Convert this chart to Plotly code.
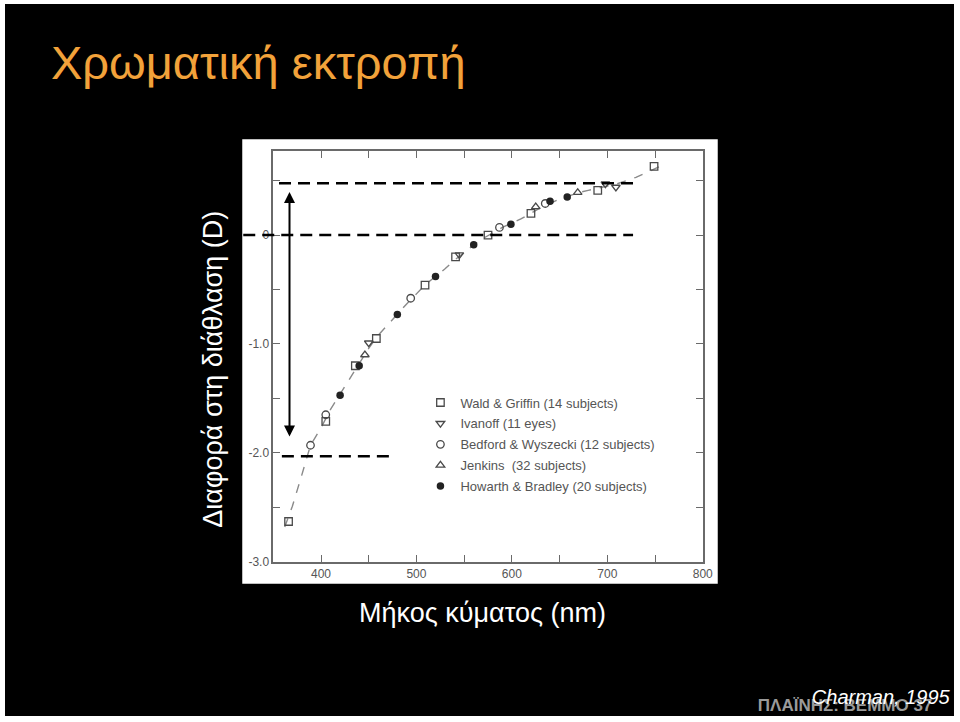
import plotly.graph_objects as go

# ---------------- data ----------------
wg_x = [366, 405, 436, 458, 509, 541, 575, 620, 690, 749]
wg_y = [-2.63, -1.71, -1.20, -0.95, -0.46, -0.20, 0.00, 0.20, 0.41, 0.63]

iv_x = [450, 545, 698, 709]
iv_y = [-0.99, -0.18, 0.47, 0.44]

bw_x = [389, 405, 494, 587, 635]
bw_y = [-1.93, -1.65, -0.58, 0.07, 0.29]

jk_x = [446, 625, 669]
jk_y = [-1.10, 0.26, 0.39]

hb_x = [420, 440, 480, 520, 560, 599, 640, 658]
hb_y = [-1.47, -1.20, -0.73, -0.38, -0.09, 0.10, 0.31, 0.35]

curve_x = [362, 370, 380, 389, 400, 410, 420, 430, 440, 450, 460, 470, 480, 490, 500,
           510, 520, 530, 540, 550, 560, 570, 580, 590, 600, 610, 620, 630, 640, 650,
           660, 670, 680, 690, 700, 710, 720, 730, 740, 750, 760]
curve_y = [-2.68, -2.49, -2.20, -1.93, -1.77, -1.60, -1.46, -1.32, -1.19, -1.04, -0.92,
           -0.82, -0.73, -0.63, -0.54, -0.45, -0.38, -0.31, -0.23, -0.16, -0.09, -0.03,
           0.02, 0.07, 0.11, 0.15, 0.20, 0.25, 0.29, 0.33, 0.36, 0.39, 0.41, 0.43, 0.45,
           0.47, 0.50, 0.53, 0.57, 0.61, 0.65]

legend_names = ["Wald & Griffin (14 subjects)", "Ivanoff (11 eyes)",
                "Bedford & Wyszecki (12 subjects)", "Jenkins  (32 subjects)",
                "Howarth & Bradley (20 subjects)"]

x_tickvals = [400, 500, 600, 700, 800]
x_ticktext = ["400", "500", "600", "700", "800"]
y_tickvals = [0, -1, -2, -3]
y_ticktext = ["0", "-1.0", "-2.0", "-3.0"]

# reference lines drawn over the chart (data units)
top_level = 0.475
zero_level = 0.0
low_level = -2.03
arrow_x = 367
arrow_top = 0.41
arrow_bottom = -1.85

title_text = "Χρωματική εκτροπή"
ytitle_text = "Διαφορά στη διάθλαση (D)"
xtitle_text = "Μήκος κύματος (nm)"
credit_text = "Charman, 1995"
footer_text = "ΠΛΑΪΝΗΣ: ΒΕΜΜΟ 37"

# ---------------- layout helpers ----------------
W, H = 960, 722           # design coordinates (pixels of the target picture)
K = 1.011                 # renderer shrinks the page slightly; compensate
FW, FH = round(W * K), round(H * K)
XR = [350, 800]
YR = [-3.0, 0.77]
L, R, T, B = 273, 702, 151, 561   # plot box in pixels
dom_x = [L / W, R / W]
dom_y = [1 - B / H, 1 - T / H]


def px(xp):
    return xp / W


def py(yp):
    return 1 - yp / H


def dx(x):
    return dom_x[0] + (x - XR[0]) / (XR[1] - XR[0]) * (dom_x[1] - dom_x[0])


def dy(y):
    return dom_y[0] + (y - YR[0]) / (YR[1] - YR[0]) * (dom_y[1] - dom_y[0])


FONT = "Liberation Sans, Arial, sans-serif"
mk_col = "#4a4a4a"
DASH = "12px,7px"

fig = go.Figure()
fig.add_trace(go.Scatter(x=curve_x, y=curve_y, mode="lines",
                         line=dict(color="#8a8a8a", width=1.4, dash="dash"),
                         showlegend=False, hoverinfo="skip"))
symbols = ["square-open", "triangle-down-open", "circle-open", "triangle-up-open", "circle"]
series = [(wg_x, wg_y), (iv_x, iv_y), (bw_x, bw_y), (jk_x, jk_y), (hb_x, hb_y)]
for i, ((sx, sy), sym, nm) in enumerate(zip(series, symbols, legend_names)):
    filled = sym == "circle"
    fig.add_trace(go.Scatter(
        x=sx, y=sy, mode="markers", name=nm, legendgroup=f"g{i}",
        marker=dict(symbol=sym, size=7.5, color="#222222" if filled else mk_col,
                    line=dict(width=0 if filled else 1.3))))

# footer texts on a clipping subplot (pixel coordinates)
fig.add_trace(go.Scatter(x=[757], y=[706], mode="text", text=[footer_text],
                         textposition="middle right", cliponaxis=True,
                         textfont=dict(family=FONT, size=17, color="#9a9a9a", weight="bold"),
                         xaxis="x2", yaxis="y2", showlegend=False, hoverinfo="skip"))
fig.add_trace(go.Scatter(x=[811], y=[698], mode="text", text=[credit_text],
                         textposition="middle right", cliponaxis=True,
                         textfont=dict(family=FONT, size=20, color="#ffffff", style="italic"),
                         xaxis="x2", yaxis="y2", showlegend=False, hoverinfo="skip"))

shapes = [
    # black slide inside white border
    dict(type="rect", xref="paper", yref="paper", x0=px(5), x1=px(953), y0=py(715), y1=py(4),
         fillcolor="black", line=dict(width=0), layer="below"),
    # white scanned figure
    dict(type="rect", xref="paper", yref="paper", x0=px(242), x1=px(717), y0=py(583), y1=py(139),
         fillcolor="white", line=dict(width=0), layer="below"),
    # dashed overlay lines
    dict(type="line", xref="paper", yref="paper", x0=dx(356), x1=dx(731), y0=dy(top_level), y1=dy(top_level),
         line=dict(color="black", width=2.5, dash=DASH)),
    dict(type="line", xref="paper", yref="paper", x0=px(243), x1=dx(727), y0=dy(zero_level), y1=dy(zero_level),
         line=dict(color="black", width=2.5, dash=DASH)),
    dict(type="line", xref="paper", yref="paper", x0=dx(359), x1=dx(478), y0=dy(low_level), y1=dy(low_level),
         line=dict(color="black", width=2.5, dash=DASH)),
]

annotations = [
    dict(x=arrow_x, y=arrow_bottom, ax=arrow_x, ay=arrow_top, xref="x", yref="y", axref="x", ayref="y",
         text="", showarrow=True, arrowhead=2, arrowsize=1.1, arrowwidth=2, arrowcolor="black",
         arrowside="end+start", standoff=0, startstandoff=0),
    dict(x=px(49), y=py(62), xref="paper", yref="paper", xanchor="left", yanchor="middle",
         text=title_text, showarrow=False, font=dict(family=FONT, size=47, color="#F2A23A")),
    dict(x=px(212), y=py(369), xref="paper", yref="paper", xanchor="center", yanchor="middle",
         text=ytitle_text, textangle=-90, showarrow=False, font=dict(family=FONT, size=27, color="white")),
    dict(x=px(482), y=py(612), xref="paper", yref="paper", xanchor="center", yanchor="middle",
         text=xtitle_text, showarrow=False, font=dict(family=FONT, size=27, color="white")),
]

axis_common = dict(showgrid=False, zeroline=False, showline=True, linecolor="#6a6a6a", linewidth=1.5,
                   ticks="inside", ticklen=7, tickcolor="#6a6a6a", tickwidth=1.3, mirror="allticks",
                   tickfont=dict(family=FONT, size=12, color="#555555"))

fig.update_layout(
    width=FW, height=FH,
    margin=dict(l=0, r=0, t=0, b=0),
    paper_bgcolor="white", plot_bgcolor="white",
    font=dict(family=FONT),
    xaxis=dict(domain=dom_x, range=XR, tickvals=x_tickvals, ticktext=x_ticktext,
               minor=dict(dtick=50, tick0=0, ticks="inside", ticklen=7, tickcolor="#6a6a6a"),
               anchor="y", **axis_common),
    yaxis=dict(domain=dom_y, range=YR, tickvals=y_tickvals, ticktext=y_ticktext,
               minor=dict(dtick=0.5, tick0=0, ticks="inside", ticklen=7, tickcolor="#6a6a6a"),
               anchor="x", **axis_common),
    xaxis2=dict(domain=[px(5), px(953)], range=[5, 953], visible=False, anchor="y2"),
    yaxis2=dict(domain=[py(715), py(670)], range=[715, 670], visible=False, anchor="x2"),
    legend=dict(x=px(420), y=py(387), xanchor="left", yanchor="top", bgcolor="rgba(0,0,0,0)",
                font=dict(family=FONT, size=13, color="#555555"), itemwidth=30,
                tracegroupgap=1.0),
    shapes=shapes,
    annotations=annotations,
    showlegend=True,
)

fig.write_html("out.html", config={"displayModeBar": False},
               post_script="document.body.style.margin='0px';")
